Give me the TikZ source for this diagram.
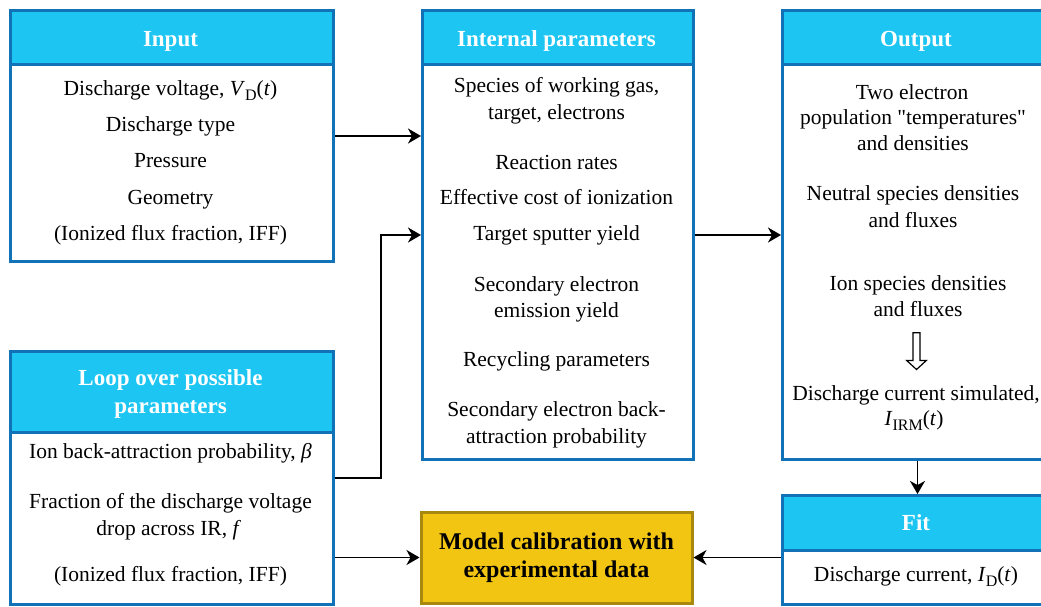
\documentclass[tikz,border=0pt]{standalone}
\usepackage{fontspec}
\setmainfont{Liberation Serif}
\newfontfamily\rawserif{Liberation Serif}[Ligatures=TeXOff]
\usetikzlibrary{arrows.meta}
\definecolor{hdrfill}{HTML}{1CC5F2}
\definecolor{bordblue}{HTML}{1272B8}
\definecolor{goldfill}{HTML}{F2C513}
\definecolor{goldbord}{HTML}{A8880E}
\newcommand\lowsub[1]{\raisebox{-0.24em}{\fontsize{16}{16}\selectfont #1}}
\newcommand\sq{{\rawserif\char34}}
\tikzset{
 box/.style={draw=bordblue, line width=3pt, fill=white, inner sep=0pt, anchor=north west},
 hdr/.style={draw=bordblue, line width=3pt, fill=hdrfill, inner sep=0pt, anchor=north west},
 hdrtext/.style={anchor=base, inner sep=0pt, text=white, font=\fontsize{23}{27}\selectfont\bfseries},
 bodytext/.style={anchor=base, inner sep=0pt, font=\fontsize{21.5}{26}\selectfont},
 modelbox/.style={draw=goldbord, fill=goldfill, line width=3pt, align=center, font=\fontsize{24}{28.5}\selectfont\bfseries, inner sep=0pt, minimum width=271pt, minimum height=91pt},
 conn/.style={line width=1.8pt, -{Stealth[length=13pt,width=15pt,inset=4pt]}},
}
\begin{document}
\begin{tikzpicture}[x=1pt,y=-1pt]
\useasboundingbox (0,0) rectangle (1041,606);
% boxes
\node[box, minimum width=323pt, minimum height=251pt] (input) at (9,9) {};
\node[hdr, minimum width=323pt, minimum height=54pt] (inputh) at (9,9) {};
\node[box, minimum width=271pt, minimum height=449pt] (internal) at (421,9) {};
\node[hdr, minimum width=271pt, minimum height=54pt] (internalh) at (421,9) {};
\node[box, minimum width=270pt, minimum height=449pt] (output) at (781,9) {};
\node[hdr, minimum width=270pt, minimum height=54pt] (outputh) at (781,9) {};
\node[box, minimum width=323pt, minimum height=253pt] (loop) at (9,350) {};
\node[hdr, minimum width=323pt, minimum height=81pt] (looph) at (9,350) {};
\node[box, minimum width=270pt, minimum height=109pt] (fit) at (781,494) {};
\node[hdr, minimum width=270pt, minimum height=55pt] (fith) at (781,494) {};
\node[modelbox] (model) at (556.5,557.5) {Model calibration with\\experimental data};
% header texts
\node[hdrtext] (hInput) at (170.5,46.5) {Input};
\node[hdrtext] (hInternal) at (556.5,46) {Internal parameters};
\node[hdrtext] (hOutput) at (916,46) {Output};
\node[hdrtext] (hLoop1) at (170.5,385) {Loop over possible};
\node[hdrtext] (hLoop2) at (170.5,413.3) {parameters};
\node[hdrtext] (hFit) at (916,530) {Fit};
% input texts
\node[bodytext] (i1) at (170.5,95) {Discharge voltage, \textit{V}\lowsub{D}(\textit{t})};
\node[bodytext] (i2) at (170.5,131.7) {Discharge type};
\node[bodytext] (i3) at (170.5,167.7) {Pressure};
\node[bodytext] (i4) at (170.5,204) {Geometry};
\node[bodytext] (i5) at (170.5,240) {(Ionized flux fraction, IFF)};
% internal texts
\node[bodytext] (p1) at (556.5,92.7) {Species of working gas,};
\node[bodytext] (p2) at (556.5,119.3) {target, electrons};
\node[bodytext] (p3) at (556.5,169.3) {Reaction rates};
\node[bodytext] (p4) at (556.5,204) {Effective cost of ionization};
\node[bodytext] (p5) at (556.5,240) {Target sputter yield};
\node[bodytext] (p6) at (556.5,291.7) {Secondary electron};
\node[bodytext] (p7) at (556.5,317.3) {emission yield};
\node[bodytext] (p8) at (556.5,366) {Recycling parameters};
\node[bodytext] (p9) at (556.5,416.7) {Secondary electron back-};
\node[bodytext] (p10) at (556.5,443.3) {attraction probability};
% output texts
\node[bodytext] (o1) at (912,99.3) {Two electron};
\node[bodytext] (o2) at (913,124) {population \sq temperatures\sq};
\node[bodytext] (o3) at (913,150.7) {and densities};
\node[bodytext] (o4) at (913,200.7) {Neutral species densities};
\node[bodytext] (o5) at (913,227.3) {and fluxes};
\node[bodytext] (o6) at (918,290.7) {Ion species densities};
\node[bodytext] (o7) at (918,316.7) {and fluxes};
\node[bodytext] (o8) at (916,400) {Discharge current simulated,};
\node[bodytext] (o9) at (914,425) {\textit{I}\lowsub{IRM}(\textit{t})};
\draw[line width=1.2pt, line join=miter] (913,332.7) -- (913,360.5) -- (906.7,360.5) -- (916.5,369.5) -- (926.3,360.5) -- (920,360.5) -- (920,332.7) -- cycle;
% loop texts
\node[bodytext] (l1) at (170.5,458.3) {Ion back-attraction probability, \textit{β}};
\node[bodytext] (l2) at (170.5,508.3) {Fraction of the discharge voltage};
\node[bodytext] (l3) at (170.5,535) {drop across IR, \textit{f}\,};
\node[bodytext] (l4) at (170.5,581.7) {(Ionized flux fraction, IFF)};
% fit text
\node[bodytext] (f1) at (916,581.7) {Discharge current, \textit{I}\lowsub{D}(\textit{t})};
% connectors
\draw[conn] (input.east) -- (input.east -| internal.west);
\draw[conn] (loop.east) -- ++(46pt,0) |- (internal.west);
\draw[conn] (internal.east) -- (output.west);
\draw[conn] (output.south -| fit.north) -- (fit.north);
\draw[conn] (fit.west |- model.east) -- (model.east);
\draw[conn] (loop.east |- model.west) -- (model.west);
\end{tikzpicture}
\end{document}
